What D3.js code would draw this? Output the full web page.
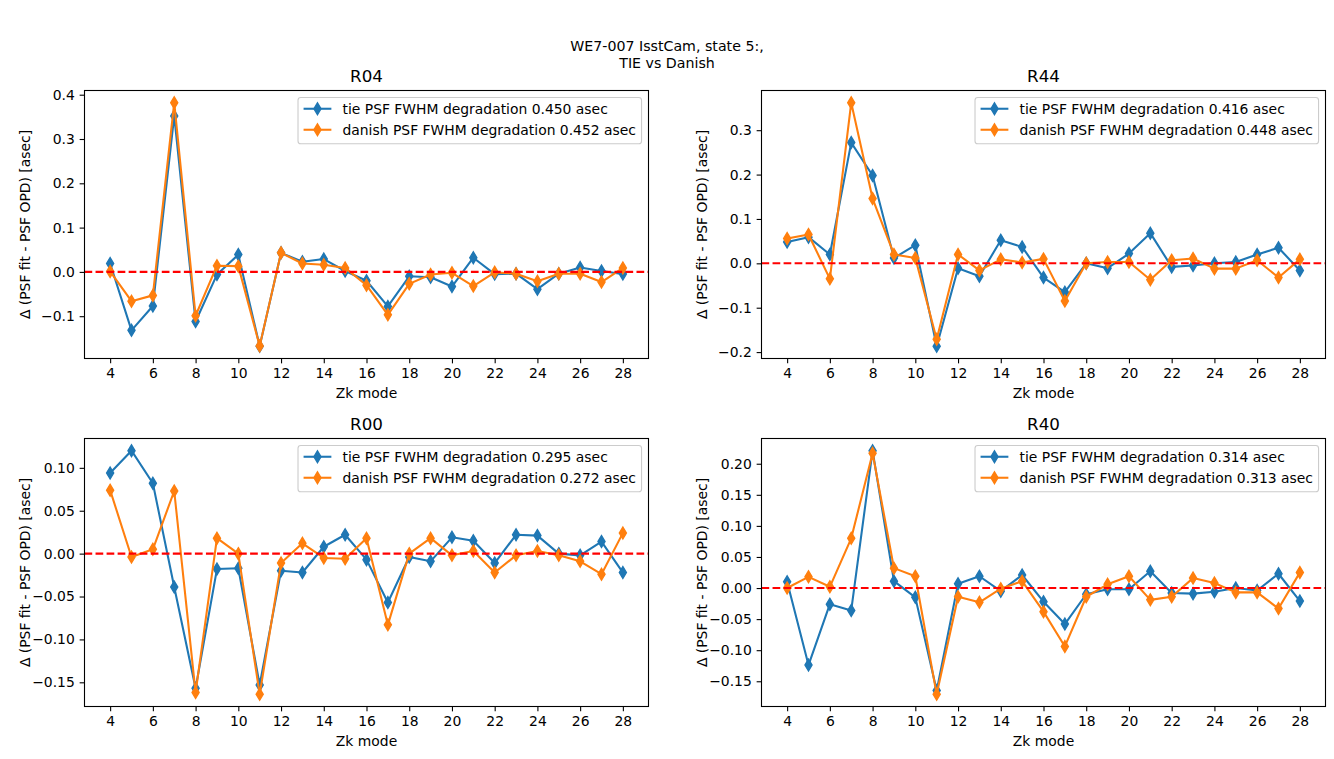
<!DOCTYPE html>
<html>
<head>
<meta charset="utf-8">
<script src="https://cdn.jsdelivr.net/npm/d3@7"></script>
<style>
  html, body { margin: 0; padding: 0; background: #fff; }
  svg { display: block; font-family: "DejaVu Sans", sans-serif; }
</style>
</head>
<body>
<svg id="chart" width="1334" height="759"></svg>
<script>
// ---------------- data ----------------
const zkModes = [4,5,6,7,8,9,10,11,12,13,14,15,16,17,18,19,20,21,22,23,24,25,26,27,28];
const xTicks = [4,6,8,10,12,14,16,18,20,22,24,26,28];

const panelNames = ["R04", "R44", "R00", "R40"];

const tieR04 = [0.019,-0.132,-0.077,0.352,-0.112,-0.006,0.039,-0.168,0.043,0.023,0.029,0.002,-0.020,-0.078,-0.010,-0.012,-0.033,0.032,-0.005,-0.004,-0.039,-0.004,0.010,0.002,-0.005];
const danR04 = [0.001,-0.066,-0.053,0.382,-0.099,0.014,0.013,-0.167,0.043,0.019,0.016,0.009,-0.030,-0.097,-0.027,-0.006,-0.002,-0.032,-0.001,-0.004,-0.021,-0.004,-0.004,-0.023,0.009];

const tieR44 = [0.048,0.059,0.020,0.272,0.198,0.012,0.041,-0.187,-0.011,-0.029,0.052,0.037,-0.032,-0.065,0.000,-0.011,0.022,0.068,-0.008,-0.005,0.000,0.003,0.020,0.035,-0.016];
const danR44 = [0.056,0.065,-0.035,0.362,0.146,0.020,0.012,-0.171,0.020,-0.016,0.009,0.002,0.010,-0.085,0.000,0.003,0.003,-0.037,0.007,0.011,-0.012,-0.012,0.007,-0.032,0.009];

const tieR00 = [0.094,0.120,0.082,-0.039,-0.157,-0.018,-0.017,-0.153,-0.020,-0.022,0.008,0.022,-0.007,-0.057,-0.004,-0.009,0.019,0.015,-0.011,0.022,0.021,0.000,-0.002,0.014,-0.022];
const danR00 = [0.074,-0.004,0.005,0.073,-0.162,0.018,0.000,-0.164,-0.011,0.012,-0.005,-0.006,0.018,-0.083,0.000,0.018,-0.002,0.003,-0.022,-0.002,0.003,-0.002,-0.009,-0.024,0.024];

const tieR40 = [0.010,-0.124,-0.026,-0.036,0.221,0.011,-0.015,-0.165,0.007,0.019,-0.005,0.021,-0.022,-0.058,-0.010,-0.002,-0.002,0.027,-0.008,-0.009,-0.006,0.000,-0.004,0.023,-0.021];
const danR40 = [0.000,0.018,0.002,0.080,0.217,0.032,0.019,-0.171,-0.014,-0.023,-0.001,0.011,-0.038,-0.094,-0.014,0.006,0.019,-0.019,-0.014,0.016,0.008,-0.007,-0.007,-0.033,0.025];

const tieFwhm = ["0.450", "0.416", "0.295", "0.314"];
const danFwhm = ["0.452", "0.448", "0.272", "0.313"];

const yTicksR04 = [-0.1, 0.0, 0.1, 0.2, 0.3, 0.4];
const yTicksR44 = [-0.2, -0.1, 0.0, 0.1, 0.2, 0.3];
const yTicksR00 = [-0.15, -0.10, -0.05, 0.00, 0.05, 0.10];
const yTicksR40 = [-0.15, -0.10, -0.05, 0.00, 0.05, 0.10, 0.15, 0.20];

const suptitleLines = ["WE7-007 IsstCam, state 5:,", "TIE vs Danish"];
const xLabel = "Zk mode";
const yLabel = "\u0394 (PSF fit - PSF OPD) [asec]";

// ---------------- layout / style ----------------
const W = 1334, H = 759;
const FS = 13.9, TFS = 16.7, STFS = 14.2;
const cTie = "#1f77b4", cDan = "#ff7f0e";
const axesBoxes = [
  {left: 84.5, right: 648.5, top: 90.5, bottom: 358.5},
  {left: 761.5, right: 1325.5, top: 90.5, bottom: 358.5},
  {left: 84.5, right: 648.5, top: 438.5, bottom: 706.5},
  {left: 761.5, right: 1325.5, top: 438.5, bottom: 706.5}
];
const panels = [
  {name: panelNames[0], tie: tieR04, dan: danR04, ticks: yTicksR04, fmt: ".1f", tf: tieFwhm[0], df: danFwhm[0]},
  {name: panelNames[1], tie: tieR44, dan: danR44, ticks: yTicksR44, fmt: ".1f", tf: tieFwhm[1], df: danFwhm[1]},
  {name: panelNames[2], tie: tieR00, dan: danR00, ticks: yTicksR00, fmt: ".2f", tf: tieFwhm[2], df: danFwhm[2]},
  {name: panelNames[3], tie: tieR40, dan: danR40, ticks: yTicksR40, fmt: ".2f", tf: tieFwhm[3], df: danFwhm[3]}
];

const svg = d3.select("#chart");

// suptitle
svg.append("g").selectAll("text").data(suptitleLines).join("text")
  .attr("x", W / 2)
  .attr("y", (d, i) => 51 + i * 16.5)
  .attr("text-anchor", "middle")
  .attr("font-size", STFS)
  .attr("fill", "#000")
  .text(d => d);

// thin diamond marker path
const mh = 5.9, mw = 3.54;
const diamond = `M0,${-mh}L${mw},0L0,${mh}L${-mw},0Z`;

panels.forEach((p, k) => {
  const b = axesBoxes[k];
  const g = svg.append("g");

  const xmin = d3.min(zkModes), xmax = d3.max(zkModes);
  const xm = (xmax - xmin) * 0.05;
  const x = d3.scaleLinear().domain([xmin - xm, xmax + xm]).range([b.left, b.right]);

  const all = p.tie.concat(p.dan);
  const ymin = d3.min(all), ymax = d3.max(all);
  const ym = (ymax - ymin) * 0.05;
  const y = d3.scaleLinear().domain([ymin - ym, ymax + ym]).range([b.bottom, b.top]);

  const clipId = "clip" + k;
  svg.append("clipPath").attr("id", clipId).append("rect")
    .attr("x", b.left).attr("y", b.top).attr("width", b.right - b.left).attr("height", b.bottom - b.top);

  const plot = g.append("g").attr("clip-path", `url(#${clipId})`);

  const line = d3.line().x((d, i) => x(zkModes[i])).y(d => y(d));
  [[p.tie, cTie], [p.dan, cDan]].forEach(([vals, col]) => {
    plot.append("path").datum(vals)
      .attr("d", line)
      .attr("fill", "none")
      .attr("stroke", col)
      .attr("stroke-width", 2.08)
      .attr("stroke-linejoin", "round")
      .attr("stroke-linecap", "square");
    plot.append("g").selectAll("path").data(vals).join("path")
      .attr("d", diamond)
      .attr("transform", (d, i) => `translate(${x(zkModes[i])},${y(d)})`)
      .attr("fill", col)
      .attr("stroke", col)
      .attr("stroke-width", 1.39);
  });

  // zero line
  plot.append("line")
    .attr("x1", b.left).attr("x2", b.right)
    .attr("y1", y(0)).attr("y2", y(0))
    .attr("stroke", "#ff0000")
    .attr("stroke-width", 2.08)
    .attr("stroke-dasharray", "7.71,3.33");

  // axes
  const xAxis = d3.axisBottom(x).tickValues(xTicks).tickSize(4.86).tickPadding(4.86).tickFormat(d3.format("d"));
  const gx = g.append("g").attr("transform", `translate(0,${b.bottom})`).call(xAxis);
  const yAxis = d3.axisLeft(y).tickValues(p.ticks).tickSize(4.86).tickPadding(4.86).tickFormat(d3.format(p.fmt));
  const gy = g.append("g").attr("transform", `translate(${b.left},0)`).call(yAxis);
  [gx, gy].forEach(ax => {
    ax.select(".domain").remove();
    ax.selectAll(".tick line").attr("stroke", "#000").attr("stroke-width", 1.1);
    ax.selectAll(".tick text").attr("font-size", FS).attr("fill", "#000").attr("font-family", "DejaVu Sans");
  });
  gy.selectAll(".tick text").text(d => d3.format(p.fmt)(d).replace("-", "\u2212"));

  // frame
  g.append("rect")
    .attr("x", b.left).attr("y", b.top)
    .attr("width", b.right - b.left).attr("height", b.bottom - b.top)
    .attr("fill", "none").attr("stroke", "#000").attr("stroke-width", 1.1);

  // title
  g.append("text")
    .attr("x", (b.left + b.right) / 2).attr("y", b.top - 8.5)
    .attr("text-anchor", "middle").attr("font-size", TFS).attr("fill", "#000")
    .text(p.name);

  // x label
  g.append("text")
    .attr("x", (b.left + b.right) / 2).attr("y", b.bottom + 39)
    .attr("text-anchor", "middle").attr("font-size", FS).attr("fill", "#000")
    .text(xLabel);

  // y label
  const ylx = b.left - 55;
  g.append("text")
    .attr("transform", `translate(${ylx},${(b.top + b.bottom) / 2}) rotate(-90)`)
    .attr("text-anchor", "middle").attr("font-size", FS).attr("fill", "#000")
    .text(yLabel);

  // legend
  const labels = [
    `tie PSF FWHM degradation ${p.tf} asec`,
    `danish PSF FWHM degradation ${p.df} asec`
  ];
  const lg = g.append("g");
  const frame = lg.append("rect");
  const texts = lg.selectAll("text.lab").data(labels).join("text")
    .attr("class", "lab")
    .attr("font-size", FS).attr("fill", "#000")
    .text(d => d);
  let tw = 0;
  texts.each(function() { tw = Math.max(tw, this.getComputedTextLength()); });
  const pad = 0.4 * FS, hl = 2 * FS, htp = 0.8 * FS;
  const boxW = pad + hl + htp + tw + pad;
  const boxH = 46.3;
  const bx = b.right - 0.5 * FS - boxW;
  const by = b.top + 0.5 * FS;
  frame.attr("x", bx).attr("y", by).attr("width", boxW).attr("height", boxH)
    .attr("rx", 2.8).attr("ry", 2.8)
    .attr("fill", "#fff").attr("fill-opacity", 0.8)
    .attr("stroke", "#cccccc").attr("stroke-width", 1.1);
  const rowY = [by + 11.3, by + 32.3];
  texts.attr("x", bx + pad + hl + htp).attr("y", (d, i) => rowY[i] + 5);
  [cTie, cDan].forEach((col, i) => {
    lg.append("line")
      .attr("x1", bx + pad).attr("x2", bx + pad + hl)
      .attr("y1", rowY[i]).attr("y2", rowY[i])
      .attr("stroke", col).attr("stroke-width", 2.08);
    lg.append("path").attr("d", diamond)
      .attr("transform", `translate(${bx + pad + hl / 2},${rowY[i]})`)
      .attr("fill", col).attr("stroke", col).attr("stroke-width", 1.39);
  });
});
</script>
</body>
</html>
